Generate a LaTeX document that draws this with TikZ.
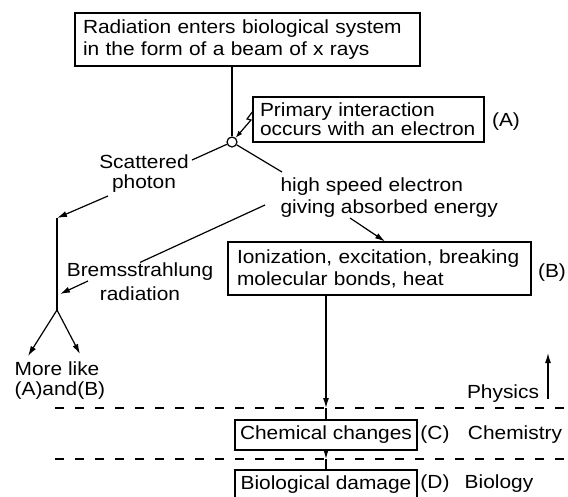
\documentclass[tikz,border=0pt]{standalone}
\usepackage{fontspec}
\setmainfont[FakeStretch=1.1]{Liberation Sans}
\usetikzlibrary{arrows.meta}
\newcommand\txtsz[1]{\fontsize{19}{#1}\selectfont}

\begin{document}
\begin{tikzpicture}[x=1pt, y=-1pt, line width=1.2pt,
    every node/.style={font=\txtsz{22}, inner sep=0pt},
    box/.style={draw, align=left, inner xsep=8pt},
    arr/.style={-{Latex[length=10pt,width=6pt]}},
    divider/.style={dash pattern=on 9pt off 11pt, line width=1.4pt}]
        \useasboundingbox (0,0) rectangle (568,496);
        \node[box, text width=329pt, minimum height=53pt] (rad) at (247.5,39.5) {Radiation enters biological system\\ in the form of a beam of x rays};
        \node[box, text width=217pt, minimum height=45pt, inner xsep=7pt, font=\txtsz{19}] (prim) at (368.5,119.5) {Primary interaction\\ occurs with an electron};
        \node[box, text width=285pt, minimum height=53pt, inner xsep=9pt] (ion) at (379.5,268.5) {Ionization, excitation, breaking\\ molecular bonds, heat};
        \node[box, minimum width=182pt, minimum height=30pt, inner xsep=4pt] (chem) at (326,435) {Chemical changes};
        \node[box, minimum width=182pt, minimum height=30pt, inner xsep=4pt] (bio) at (326,485) {Biological damage};
        \node (A) at (506,122) {(A)};
        \node (B) at (552,273) {(B)};
        \node (C) at (435,435) {(C)};
        \node (chemlbl) at (515,435) {Chemistry};
        \node (D) at (435,484) {(D)};
        \node (biolbl) at (499,484) {Biology};
        \node (phys) at (503,394) {Physics};
        \node[align=center, font=\txtsz{20}] (scat) at (144,174) {Scattered\\ photon};
        \node[align=left, anchor=west] (hse) at (280,198) {high speed electron\\ giving absorbed energy};
        \node[align=center, font=\txtsz{24}] (brems) at (140,282) {Bremsstrahlung\\ radiation};
        \node[align=left, anchor=west, font=\txtsz{20}] (more) at (14,381) {More like\\ (A)and(B)};
        \node[draw, circle, minimum size=10pt] (hit) at (232,142) {};
        % free ends
        \coordinate (zig) at (253,111);
        \coordinate (scatin) at (192,160);
        \coordinate (scatout) at (108,196);
        \coordinate (turn) at (57,218);
        \coordinate (fork) at (57,310);
        \coordinate (lefttip) at (28,356);
        \coordinate (righttip) at (80,354);
        \coordinate (hsein) at (282,172);
        \coordinate (hseout) at (265,205);
        \coordinate (hsedown) at (350,218);
        \coordinate (bremsout) at (88,281);
        \coordinate (bremstip) at (60,294);
        \coordinate (lineA) at (55,408);
        \coordinate (lineB) at (55,459);
        \coordinate (physlo) at (548,399);
        \coordinate (physhi) at (548,353);
        \draw [divider] (lineA) -- (568,408);
        \draw [divider] (lineB) -- (568,459);
        \draw (rad.south -| hit) -- (hit);
        \draw [-{Latex[length=7pt,width=5pt]}] (zig) -- ++(-6,8) -- ++(4,1) -- (hit);
        \draw (hit) -- (scatin);
        \draw [arr] (scatout) -- (turn);
        \draw (turn) -- (fork);
        \draw [arr] (fork) -- (lefttip);
        \draw [arr] (fork) -- (righttip);
        \draw (hit) -- (hsein);
        \draw (hseout) -- (brems.north);
        \draw [arr] (bremsout) -- (bremstip);
        \draw [arr] (hsedown) -- ([xshift=5.5pt]ion.north);
        \draw [arr] (ion.south -| chem) -- (lineA -| chem);
        \draw (lineA -| chem) -- (chem.north);
        \draw [arr] (chem.south) -- (lineB -| chem);
        \draw (lineB -| chem) -- (bio.north);
        \draw [arr] (physlo) -- (physhi);
\end{tikzpicture}
\end{document}
